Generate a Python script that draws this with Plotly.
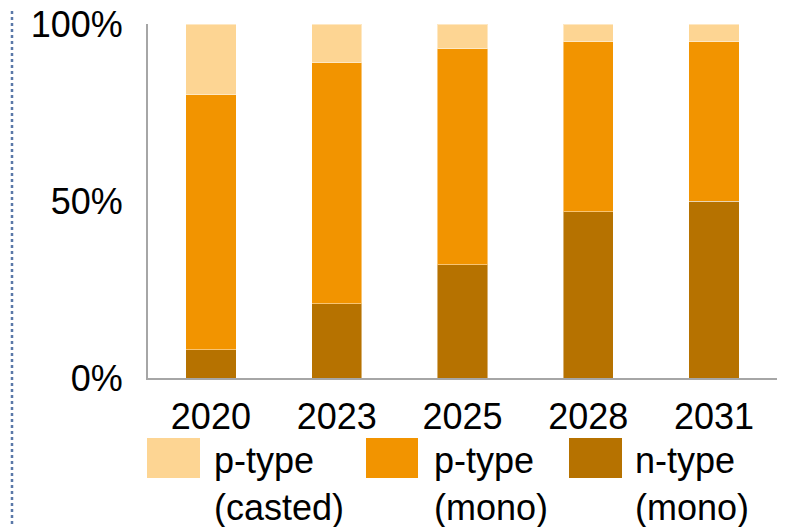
import plotly.graph_objects as go

years = ["2020", "2023", "2025", "2028", "2031"]
n_type_mono = [8, 21, 32, 47, 50]
p_type_mono = [72, 68, 61, 48, 45]
p_type_casted = [20, 11, 7, 5, 5]
y_tick_vals = [0, 50, 100]
y_tick_text = ["0%", "50%", "100%"]

series = [
    ("n-type<br>(mono)", n_type_mono, "#B67200"),
    ("p-type<br>(mono)", p_type_mono, "#F29400"),
    ("p-type<br>(casted)", p_type_casted, "#FDD593"),
]

FONT = "Liberation Sans, Arial, sans-serif"
OFF = 8  # default page body margin
W, H = 789 - OFF, 527 - OFF
# plot area in page pixels: x 148..777, y 24..378
L, T = 148 - OFF, 24 - OFF
R = W - (777 - OFF)
B = H - (378 - OFF)
PW, PH = W - L - R, H - T - B


def px_x(px):
    return (px - OFF - L) / PW


def px_y(py):
    return (H - B - (py - OFF)) / PH


fig = go.Figure()
for name, vals, col in series:
    fig.add_trace(go.Bar(
        x=years, y=vals, name=name,
        marker=dict(color=col, line=dict(color="rgba(255,255,255,0.45)", width=1)),
        showlegend=False,
    ))

shapes = []
annotations = []
legend_items = [
    ("p-type<br>(casted)", "#FDD593", 147, 200, 212),
    ("p-type<br>(mono)", "#F29400", 366, 418, 432),
    ("n-type<br>(mono)", "#B67200", 569, 622, 633),
]
for text, col, x0, x1, tx in legend_items:
    shapes.append(dict(type="rect", xref="paper", yref="paper",
                       x0=px_x(x0), x1=px_x(x1), y0=px_y(478), y1=px_y(438),
                       fillcolor=col, line=dict(width=0)))
    annotations.append(dict(xref="paper", yref="paper", x=px_x(tx), y=px_y(484),
                            xanchor="left", yanchor="middle", showarrow=False,
                            align="left", text=text,
                            font=dict(family=FONT, size=36, color="#000000")))

# dotted frame line on the left
shapes.append(dict(type="line", xref="paper", yref="paper",
                   x0=px_x(12), x1=px_x(12), y0=px_y(530), y1=px_y(OFF),
                   line=dict(color="#5A78A8", width=2.5, dash="dot")))

fig.update_layout(
    barmode="stack",
    bargap=0.6,
    width=W, height=H,
    margin=dict(l=L, r=R, t=T, b=B, pad=0, autoexpand=False),
    paper_bgcolor="white", plot_bgcolor="white",
    font=dict(family=FONT, size=36, color="#000000"),
    shapes=shapes,
    annotations=annotations,
    showlegend=False,
    xaxis=dict(showline=True, linecolor="#A6A6A6", linewidth=2, ticks="",
               showgrid=False, zeroline=False, ticklabelstandoff=6,
               automargin=False, ticklabeloverflow="allow",
               tickfont=dict(family=FONT, size=36, color="#000000")),
    yaxis=dict(range=[0, 100], tickmode="array", tickvals=y_tick_vals,
               ticktext=y_tick_text,
               showline=True, linecolor="#A6A6A6", linewidth=2, ticks="",
               showgrid=False, zeroline=False, ticklabelstandoff=16,
               automargin=False, ticklabeloverflow="allow",
               tickfont=dict(family=FONT, size=36, color="#000000")),
)

fig.write_html("out.html")
